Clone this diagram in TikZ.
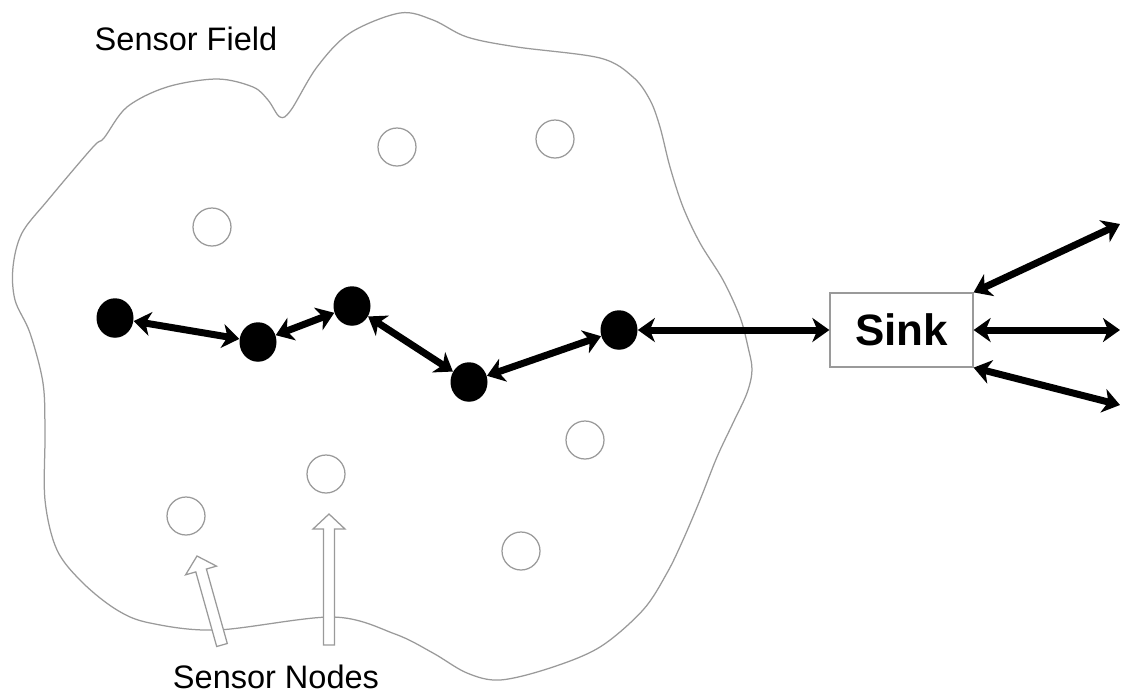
\documentclass[tikz,border=0pt]{standalone}
\usepackage{fontspec}
\setmainfont{Liberation Sans}
\usetikzlibrary{arrows.meta,shapes.geometric}
\definecolor{outl}{HTML}{9A9A9A}
\tikzset{
  dbl/.style={line width=1.4mm, {Stealth[length=3.4mm,width=4.8mm,inset=1mm]}-{Stealth[length=3.4mm,width=4.8mm,inset=1mm]}},
  active/.style={ellipse, fill=black, inner sep=0pt, minimum width=7.4mm, minimum height=7.9mm},
  idle/.style={circle, draw=outl, line width=0.25mm, fill=white, inner sep=0pt, minimum size=7.6mm},
  sinkbox/.style={draw=outl, line width=0.25mm, minimum width=28.6mm, minimum height=14.8mm, inner sep=0pt, font=\fontsize{25}{30}\selectfont\bfseries},
  lbl/.style={inner sep=0pt, font=\fontsize{18.5}{22}\selectfont},
  pointer/.style={draw=outl, line width=0.25mm, fill=white, line join=miter}
}
\begin{document}
\begin{tikzpicture}[x=0.2mm,y=-0.2mm]
\useasboundingbox (0,0) rectangle (1121,693);
\fill[white] (0,0) rectangle (1121,693);
% sensor field outline
\draw[outl, line width=0.25mm] plot[smooth cycle, tension=0.55] coordinates {
 (15,300) (13,267) (22,233) (48,200) (93,147) (104,138) (127,107) (167,87) (217,79) (253,87) (268,100) (280,117) (291,110) (317,67) (350,33) (400,13) (433,20) (467,37) (517,47) (600,58) (633,77) (650,100) (660,127) (670,167) (683,207) (700,243) (723,280) (740,317) (748,347) (752,370) (747,393) (733,423) (717,457) (700,500) (683,540) (667,573) (643,610) (600,647) (550,668) (500,680) (467,673) (433,653) (395,634) (333,617) (217,630) (150,623) (117,610) (83,583) (57,550) (45,500) (45,433) (43,383) (30,333)};
% idle sensor nodes
\node[idle] (s1) at (212,227) {};
\node[idle] (s2) at (397,147) {};
\node[idle] (s3) at (555,139) {};
\node[idle] (s4) at (585,440) {};
\node[idle] (s5) at (326,474) {};
\node[idle] (s6) at (186,516) {};
\node[idle] (s7) at (521,551) {};
% active route nodes
\node[active] (n1) at (115,318) {};
\node[active] (n2) at (258,342) {};
\node[active] (n3) at (352,306) {};
\node[active] (n4) at (469,382) {};
\node[active] (n5) at (619,330) {};
% sink
\node[sinkbox] (sink) at (901.5,330) {Sink};
\coordinate (r1) at (1120,224);
\coordinate (r2) at (1120,330);
\coordinate (r3) at (1120,405);
% connectors
\draw[dbl] (n1) -- (n2);
\draw[dbl] (n2) -- (n3);
\draw[dbl] (n3) -- (n4);
\draw[dbl] (n4) -- (n5);
\draw[dbl] (n5) -- (sink.west);
\draw[dbl] (sink.north east) -- (r1);
\draw[dbl] (sink.east) -- (r2);
\draw[dbl] (sink.south east) -- (r3);
% labels
\node[lbl] (field) at (186,39) {Sensor Field};
\node[lbl] (nodes) at (276,677) {Sensor Nodes};
% hollow pointer arrows
\draw[pointer] (197,556) -- (216.5,566.1) -- (206.4,569.0) -- (227.3,643.5) -- (216.7,646.5) -- (195.8,571.9) -- (185.6,574.8) -- cycle;
\draw[pointer] (329,514) -- (345,529) -- (334.5,529) -- (334.5,645) -- (323.5,645) -- (323.5,529) -- (313,529) -- cycle;
\end{tikzpicture}
\end{document}
